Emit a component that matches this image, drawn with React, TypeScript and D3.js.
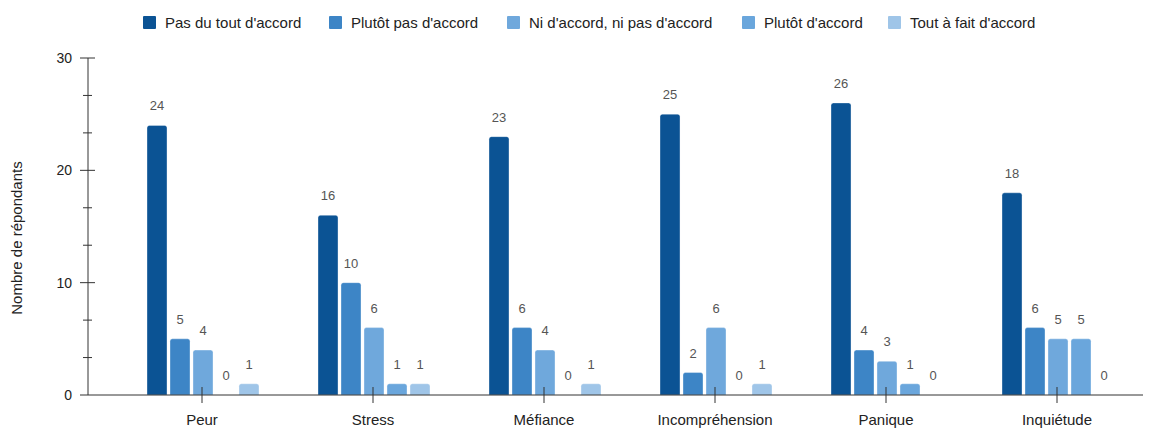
import React from "react";
import * as d3 from "d3";

const categories = ["Peur", "Stress", "Méfiance", "Incompréhension", "Panique", "Inquiétude"];
const seriesNames = [
  "Pas du tout d'accord",
  "Plutôt pas d'accord",
  "Ni d'accord, ni pas d'accord",
  "Plutôt d'accord",
  "Tout à fait d'accord",
];
const pasDuTout = [24, 16, 23, 25, 26, 18];
const plutotPas = [5, 10, 6, 2, 4, 6];
const niNi = [4, 6, 4, 6, 3, 5];
const plutot = [0, 1, 0, 0, 1, 5];
const toutAFait = [1, 1, 1, 1, 0, 0];
const series = [pasDuTout, plutotPas, niNi, plutot, toutAFait];
const colors = ["#0b5394", "#3d85c6", "#6fa8dc", "#6aa6dc", "#9fc5e8"];
const majorTicks = [0, 10, 20, 30];
const legendX = [143, 329, 507, 742, 888];

const font = "'Liberation Sans', Arial, sans-serif";

function topRounded(x: number, y: number, w: number, h: number, r: number) {
  if (h <= 0) return "";
  const rr = Math.min(r, h, w / 2);
  return `M${x},${y + h}V${y + rr}Q${x},${y} ${x + rr},${y}H${x + w - rr}Q${x + w},${y} ${x + w},${y + rr}V${y + h}Z`;
}

export default function App() {
  const width = 1158;
  const height = 428;
  const axisX = 88;
  const x = d3.scaleBand().domain(categories).range([116.5, 1142.5]);
  const y = d3.scaleLinear().domain([0, 30]).range([395, 58]);
  const inner = d3
    .scaleBand<number>()
    .domain(d3.range(5))
    .range([-55, 57])
    .paddingInner(0.13);
  const minor = d3.range(0, 30.01, 10 / 3).filter((v) => Math.abs(v % 10) > 0.1 && Math.abs((v % 10) - 10) > 0.1);

  return (
    <svg width={width} height={height} style={{ position: "absolute", left: 0, top: 0 }} fontFamily={font}>
      <rect width={width} height={height} fill="#fff" />
      {/* legend */}
      {seriesNames.map((n, i) => (
        <g key={n} transform={`translate(${legendX[i]},16)`}>
          <rect width={13} height={13} rx={1} fill={colors[i]} />
          <text x={22} y={12} fontSize={15} fill="#222">
            {n}
          </text>
        </g>
      ))}
      {/* y axis */}
      <line x1={axisX} x2={axisX} y1={y(30)} y2={y(0)} stroke="#333" />
      {majorTicks.map((t) => (
        <g key={t}>
          <line x1={80} x2={t === 0 ? axisX : 95} y1={y(t)} y2={y(t)} stroke="#333" />
          <text x={72} y={y(t) + 5} textAnchor="end" fontSize={14} fill="#222">
            {t}
          </text>
        </g>
      ))}
      {minor.map((t) => (
        <line key={t} x1={83} x2={92} y1={y(t)} y2={y(t)} stroke="#333" />
      ))}
      <text
        transform={`translate(22,238) rotate(-90)`}
        textAnchor="middle"
        fontSize={15}
        fill="#222"
      >
        Nombre de répondants
      </text>
      {/* bars */}
      {categories.map((c, ci) => {
        const cx = (x(c) as number) + x.bandwidth() / 2;
        return (
          <g key={c}>
            {series.map((s, si) => {
              const bx = cx + (inner(si) as number);
              const by = y(s[ci]);
              return (
                <g key={si}>
                  <path
                    d={topRounded(bx, by, inner.bandwidth(), y(0) - by, 2.5)}
                    fill={colors[si]}
                    stroke="rgba(255,255,255,0.35)"
                    strokeWidth={1}
                  />
                  <text
                    x={bx + inner.bandwidth() / 2}
                    y={by - 15}
                    textAnchor="middle"
                    fontSize={13}
                    fill="#555"
                  >
                    {s[ci]}
                  </text>
                </g>
              );
            })}
          </g>
        );
      })}
      {/* x axis */}
      <line x1={axisX} x2={1143} y1={y(0)} y2={y(0)} stroke="#333" />
      {categories.map((c) => {
        const cx = (x(c) as number) + x.bandwidth() / 2;
        return (
          <g key={c}>
            <line x1={cx} x2={cx} y1={387} y2={403} stroke="#333" />
            <text x={cx} y={425} textAnchor="middle" fontSize={15} fill="#222">
              {c}
            </text>
          </g>
        );
      })}
    </svg>
  );
}
